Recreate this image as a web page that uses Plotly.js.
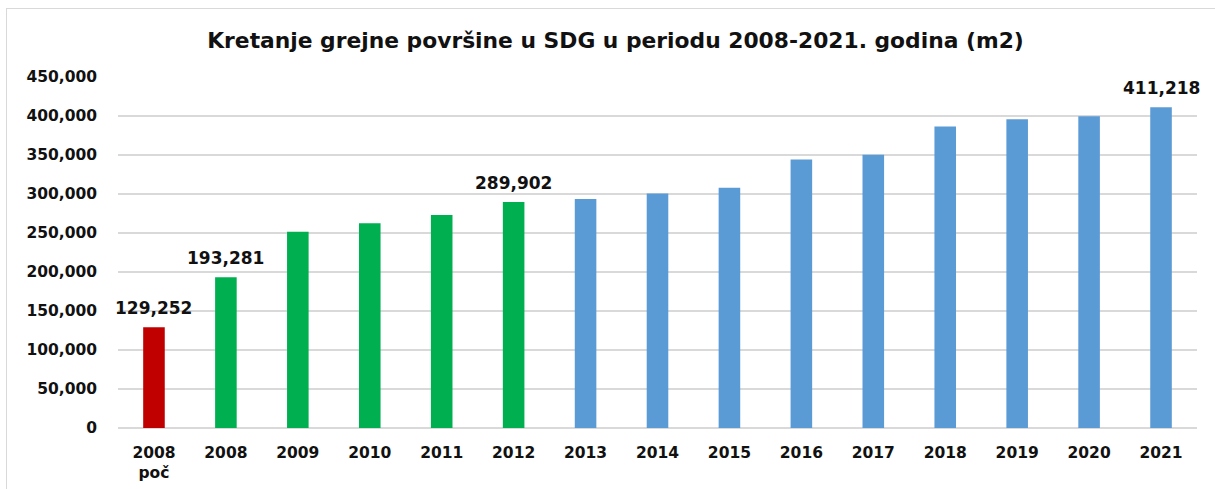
<!DOCTYPE html>
<html>
<head>
<meta charset="utf-8">
<script src="https://cdn.plot.ly/plotly-3.0.1.min.js"></script>
<style>
  html, body { margin: 0; padding: 0; background: #fff; }
  #wrap { position: relative; width: 1215px; height: 489px; }
  #chart { position: absolute; left: 0; top: 0; width: 1215px; height: 489px; }
  #frame { position: absolute; left: 6px; top: 8px; right: 0; bottom: 0;
           border-left: 1.5px solid #d9d9d9; border-top: 1.5px solid #d9d9d9;
           pointer-events: none; }
</style>
</head>
<body>
<div id="wrap">
  <div id="chart"></div>
  <div id="frame"></div>
</div>
<script>
// ---- data ----
const categories = ["2008<br>poč", "2008", "2009", "2010", "2011", "2012", "2013",
                    "2014", "2015", "2016", "2017", "2018", "2019", "2020", "2021"];
const values = [129252, 193281, 251600, 262400, 273000, 289902, 293500,
                300800, 307900, 344300, 350200, 386500, 395900, 399700, 411218];
const periodGroup = ["start", "early", "early", "early", "early", "early", "late",
                     "late", "late", "late", "late", "late", "late", "late", "late"];
const labelled = [true, true, false, false, false, true, false,
                  false, false, false, false, false, false, false, true];
const yTicks = [0, 50000, 100000, 150000, 200000, 250000, 300000, 350000, 400000, 450000];
const titleText = "Kretanje grejne površine u SDG u periodu 2008-2021. godina (m2)";

// ---- styles ----
const groupColor = { start: "#C00000", early: "#00B050", late: "#5B9BD5" };
const FONT = "DejaVu Sans";
const fmt = v => v.toLocaleString("en-US");
const idx = categories.map((_, i) => i);

const trace = {
  type: "bar",
  x: idx,
  y: values,
  width: 0.3,
  marker: { color: periodGroup.map(g => groupColor[g]) },
  hoverinfo: "y"
};

const annotations = idx
  .filter(i => labelled[i])
  .map(i => ({
    x: i, y: values[i], xref: "x", yref: "y",
    text: "<b>" + fmt(values[i]) + "</b>",
    showarrow: false, yanchor: "bottom", yshift: 7,
    font: { family: FONT, size: 17, color: "#111" }
  }));

const layout = {
  width: 1215, height: 489,
  margin: { l: 118, r: 18, t: 77, b: 61 },
  paper_bgcolor: "#fff", plot_bgcolor: "#fff",
  showlegend: false,
  title: {
    text: "<b>" + titleText + "</b>",
    font: { family: FONT, size: 21.8, color: "#111" },
    xref: "container", yref: "container",
    x: 615.5 / 1215, xanchor: "center",
    y: 1 - 40 / 489, yanchor: "middle"
  },
  xaxis: {
    type: "linear",
    range: [-0.5, categories.length - 0.5],
    tickvals: idx,
    ticktext: categories.map(c => "<b>" + c.replace("<br>", "</b><br><b>") + "</b>"),
    tickfont: { family: FONT, size: 15.5, color: "#111" },
    showgrid: false, zeroline: false, showline: false,
    ticks: "", ticklabelstandoff: 13
  },
  yaxis: {
    range: [0, 450000],
    tickvals: yTicks,
    ticktext: yTicks.map(v => "<b>" + fmt(v) + "</b>"),
    tickfont: { family: FONT, size: 15.5, color: "#111" },
    showgrid: true, gridcolor: "#d9d9d9", gridwidth: 1.5,
    zeroline: true, zerolinecolor: "#d9d9d9", zerolinewidth: 1.5,
    showline: false, ticks: "", ticklabelstandoff: 20
  },
  annotations: annotations
};

Plotly.newPlot("chart", [trace], layout, { displayModeBar: false, staticPlot: true });
</script>
</body>
</html>
